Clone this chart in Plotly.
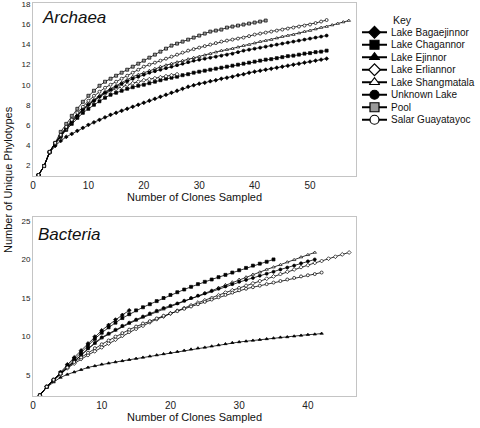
import plotly.graph_objects as go

# ---------------- DATA ----------------
series_names = ["Lake Bagaejinnor", "Lake Chagannor", "Lake Ejinnor", "Lake Erliannor",
                "Lake Shangmatala", "Unknown Lake", "Pool", "Salar Guayatayoc"]

# Archaea rarefaction curves (unique phylotypes at 1, 2, 3, ... clones)
arch_bagaejinnor = [1, 1.9, 3.2, 3.9, 4.4, 4.8, 5.1, 5.4, 5.7, 6.0, 6.25, 6.5, 6.75, 7.0, 7.2, 7.4, 7.6, 7.8, 8.0, 8.2,
                    8.4, 8.6, 8.8, 9.0, 9.2, 9.4, 9.6, 9.8, 9.95, 10.1, 10.2, 10.35, 10.45, 10.6, 10.7, 10.8, 10.95,
                    11.05, 11.2, 11.3, 11.4, 11.5, 11.6, 11.7, 11.8, 11.9, 12.0, 12.1, 12.2, 12.3, 12.4, 12.5, 12.6]
arch_chagannor = [1, 1.9, 3.3, 4.1, 4.8, 5.5, 6.1, 6.7, 7.2, 7.6, 8.0, 8.35, 8.7, 9.0, 9.2, 9.4, 9.6, 9.75, 9.9, 10.0,
                  10.15, 10.3, 10.45, 10.6, 10.7, 10.8, 10.95, 11.05, 11.2, 11.3, 11.4, 11.5, 11.6, 11.7, 11.8, 11.9,
                  12.0, 12.1, 12.2, 12.3, 12.4, 12.5, 12.55, 12.65, 12.75, 12.85, 12.9, 13.0, 13.1, 13.15, 13.25,
                  13.3, 13.4]
arch_erliannor = [1, 1.9, 3.3, 4.2, 4.9, 5.6, 6.3, 6.9, 7.5, 8.0, 8.4, 8.8, 9.1, 9.4, 9.6, 9.8, 10.0, 10.15, 10.3,
                  10.45, 10.55, 10.65, 10.75, 10.85, 10.95, 11.05]
arch_shangmatala = [1, 1.9, 3.3, 4.2, 4.9, 5.7, 6.4, 7.0, 7.6, 8.1, 8.5, 8.9, 9.3, 9.6, 9.9, 10.2, 10.5, 10.8, 11.0,
                    11.2, 11.4, 11.6, 11.8, 11.95, 12.1, 12.25, 12.4, 12.55, 12.7, 12.8, 12.95, 13.1, 13.25, 13.4,
                    13.5, 13.6, 13.75, 13.9, 14.0, 14.15, 14.3, 14.4, 14.5, 14.65, 14.8, 14.9, 15.0, 15.15, 15.3,
                    15.4, 15.55, 15.7, 15.8, 15.95, 16.1, 16.25, 16.4]
arch_unknown = [1, 1.9, 3.3, 4.2, 4.9, 5.7, 6.3, 6.9, 7.5, 8.0, 8.4, 8.8, 9.2, 9.5, 9.8, 10.1, 10.35, 10.6, 10.8, 11.0,
                11.2, 11.35, 11.5, 11.65, 11.8, 11.95, 12.1, 12.25, 12.4, 12.5, 12.6, 12.7, 12.8, 12.9, 13.0, 13.1,
                13.25, 13.4, 13.5, 13.6, 13.7, 13.8, 13.9, 14.0, 14.1, 14.2, 14.3, 14.4, 14.5, 14.6, 14.7, 14.8, 14.9]
arch_pool = [1, 1.9, 3.3, 4.2, 5.3, 6.1, 6.9, 7.6, 8.3, 8.9, 9.4, 9.9, 10.3, 10.6, 10.9, 11.2, 11.5, 11.8, 12.1, 12.4,
             12.7, 13.0, 13.3, 13.6, 13.9, 14.1, 14.3, 14.5, 14.7, 14.9, 15.1, 15.3, 15.4, 15.5, 15.7, 15.8, 15.9,
             16.0, 16.1, 16.2, 16.3, 16.4]
arch_salar = [1, 1.9, 3.3, 4.2, 5.0, 5.8, 6.5, 7.2, 7.8, 8.4, 8.9, 9.3, 9.7, 10.0, 10.3, 10.6, 10.9, 11.2, 11.5, 11.8,
              12.0, 12.2, 12.4, 12.6, 12.8, 13.0, 13.2, 13.4, 13.55, 13.7, 13.85, 14.0, 14.15, 14.3, 14.4, 14.5, 14.6,
              14.7, 14.85, 15.0, 15.1, 15.2, 15.3, 15.4, 15.5, 15.6, 15.7, 15.8, 15.9, 16.0, 16.15, 16.3, 16.45]

# Bacteria rarefaction curves
bact_bagaejinnor = [2.4, 3.5, 4.4, 5.4, 6.4, 7.3, 8.2, 9.1, 10.0, 10.8, 11.5, 12.2, 12.8, 13.4]
bact_chagannor = [2.4, 3.5, 4.4, 5.3, 6.2, 7.1, 7.9, 8.8, 9.7, 10.5, 11.2, 11.8, 12.4, 12.9, 13.4, 13.8, 14.2, 14.6,
                  15.0, 15.4, 15.75, 16.1, 16.45, 16.8, 17.1, 17.4, 17.7, 18.0, 18.3, 18.6, 18.9, 19.2, 19.45, 19.7,
                  20.0]
bact_ejinnor = [2.4, 3.4, 4.1, 4.7, 5.1, 5.4, 5.7, 6.0, 6.2, 6.4, 6.55, 6.7, 6.85, 7.0, 7.15, 7.3, 7.45, 7.6, 7.75,
                7.9, 8.05, 8.2, 8.35, 8.5, 8.6, 8.75, 8.9, 9.05, 9.2, 9.3, 9.4, 9.5, 9.6, 9.7, 9.8, 9.9, 9.95, 10.05,
                10.15, 10.25, 10.3, 10.4]
bact_erliannor = [2.4, 3.5, 4.3, 5.1, 5.9, 6.5, 7.1, 7.6, 8.1, 8.6, 9.1, 9.6, 10.1, 10.6, 11.0, 11.4, 11.85, 12.25,
                  12.6, 13.0, 13.35, 13.7, 14.05, 14.4, 14.7, 15.0, 15.35, 15.7, 16.0, 16.3, 16.6, 16.9, 17.2, 17.5,
                  17.8, 18.1, 18.4, 18.7, 19.0, 19.25, 19.55, 19.8, 20.1, 20.35, 20.65, 20.9]
bact_shangmatala = [2.4, 3.5, 4.4, 5.2, 6.1, 6.9, 7.6, 8.4, 9.1, 9.8, 10.3, 10.8, 11.3, 11.7, 12.1, 12.5, 12.85, 13.2,
                    13.55, 13.9, 14.25, 14.6, 14.95, 15.3, 15.65, 16.0, 16.35, 16.7, 17.05, 17.4, 17.7, 18.05, 18.35,
                    18.7, 19.0, 19.3, 19.65, 19.95, 20.3, 20.6, 20.9]
bact_unknown = [2.4, 3.5, 4.4, 5.2, 6.1, 6.9, 7.7, 8.5, 9.2, 9.9, 10.4, 10.9, 11.4, 11.8, 12.2, 12.6, 13.0, 13.35, 13.7,
                14.0, 14.3, 14.65, 15.0, 15.3, 15.6, 15.9, 16.2, 16.5, 16.8, 17.1, 17.35, 17.6, 17.9, 18.15, 18.4,
                18.7, 18.95, 19.2, 19.5, 19.75, 20.0]
bact_salar = [2.4, 3.5, 4.4, 5.2, 6.0, 6.7, 7.3, 7.9, 8.5, 9.0, 9.5, 10.0, 10.45, 10.9, 11.3, 11.7, 12.0, 12.35, 12.7,
              13.0, 13.3, 13.6, 13.9, 14.2, 14.5, 14.8, 15.1, 15.4, 15.7, 16.0, 16.2, 16.4, 16.6, 16.8, 17.0, 17.2,
              17.4, 17.6, 17.8, 17.95, 18.1, 18.3]

archaea = {"Lake Bagaejinnor": arch_bagaejinnor, "Lake Chagannor": arch_chagannor,
           "Lake Erliannor": arch_erliannor, "Lake Shangmatala": arch_shangmatala,
           "Unknown Lake": arch_unknown, "Pool": arch_pool, "Salar Guayatayoc": arch_salar}
bacteria = {"Lake Bagaejinnor": bact_bagaejinnor, "Lake Chagannor": bact_chagannor,
            "Lake Ejinnor": bact_ejinnor, "Lake Erliannor": bact_erliannor,
            "Lake Shangmatala": bact_shangmatala, "Unknown Lake": bact_unknown,
            "Salar Guayatayoc": bact_salar}

arch_yticks = [2, 4, 6, 8, 10, 12, 14, 16, 18]
bact_yticks = [5, 10, 15, 20, 25]
arch_xticks = [0, 10, 20, 30, 40, 50]
bact_xticks = [0, 10, 20, 30, 40]

# ---------------- STYLE ----------------
styles = {
    "Lake Bagaejinnor": dict(symbol="diamond", color="black"),
    "Lake Chagannor": dict(symbol="square", color="black"),
    "Lake Ejinnor": dict(symbol="triangle-up", color="black"),
    "Lake Erliannor": dict(symbol="diamond", color="white"),
    "Lake Shangmatala": dict(symbol="triangle-up", color="white"),
    "Unknown Lake": dict(symbol="circle", color="black"),
    "Pool": dict(symbol="square", color="#9a9a9a"),
    "Salar Guayatayoc": dict(symbol="circle", color="white"),
}

FONT = "Liberation Sans, Arial, sans-serif"
W, H = 480, 428
fig = go.Figure()


def add_panel(data, xa, ya):
    for name, vals in data.items():
        st = styles[name]
        fig.add_trace(go.Scatter(
            x=list(range(1, len(vals) + 1)), y=vals, mode="lines+markers", name=name,
            showlegend=False, xaxis=xa, yaxis=ya, legendgroup=name,
            line=dict(color="black", width=0.8),
            marker=dict(symbol=st["symbol"], size=3, color=st["color"],
                        line=dict(color="black", width=0.7)),
            hoverinfo="x+y+name"))


add_panel(archaea, "x", "y")
add_panel(bacteria, "x2", "y2")

# Key: one row per series on a small categorical axis (names shown as tick labels)
for name in series_names:
    st = styles[name]
    fig.add_trace(go.Scatter(
        x=[0, 1], y=[name, name], mode="lines", xaxis="x3", yaxis="y3",
        line=dict(color="black", width=2), showlegend=False, hoverinfo="skip", cliponaxis=False))
    fig.add_trace(go.Scatter(
        x=[0.5], y=[name], mode="markers", xaxis="x3", yaxis="y3", name=name,
        marker=dict(symbol=st["symbol"], size=9, color=st["color"],
                    line=dict(color="black", width=1.2)),
        showlegend=False, hoverinfo="name", cliponaxis=False))

axis_common = dict(showline=True, mirror=True, linecolor="#c4c4c4", linewidth=1,
                   showgrid=False, zeroline=False, ticks="", automargin=False,
                   tickfont=dict(family=FONT, size=10, color="#222"))

fig.update_layout(
    width=W, height=H,
    margin=dict(l=0, r=0, t=0, b=0),
    paper_bgcolor="white", plot_bgcolor="white",
    font=dict(family=FONT, color="#111"),
    showlegend=False,
    xaxis=dict(axis_common, domain=[33 / W, 356 / W], range=[0, 58.3], tickvals=arch_xticks,
               title=dict(text="Number of Clones Sampled", font=dict(size=11), standoff=2),
               anchor="y"),
    yaxis=dict(axis_common, domain=[1 - 176 / H, 1 - 3 / H], range=[0.9, 18.15],
               tickvals=arch_yticks, tickfont=dict(family=FONT, size=8, color="#222"), anchor="x"),
    xaxis2=dict(axis_common, domain=[33 / W, 356 / W], range=[0, 47], tickvals=bact_xticks,
                title=dict(text="Number of Clones Sampled", font=dict(size=11), standoff=2),
                anchor="y2"),
    yaxis2=dict(axis_common, domain=[1 - 396 / H, 1 - 217 / H], range=[2.3, 25.5],
                tickvals=bact_yticks, tickfont=dict(family=FONT, size=8, color="#222"), anchor="x2"),
    xaxis3=dict(domain=[362 / W, 387 / W], range=[0, 1], visible=False, fixedrange=True, anchor="y3"),
    yaxis3=dict(domain=[1 - 126 / H, 1 - 26 / H], type="category", categoryorder="array",
                categoryarray=series_names, range=[7.5, -0.5], side="right", anchor="x3",
                tickmode="array", tickvals=series_names, ticktext=series_names,
                showline=False, showgrid=False, zeroline=False, ticks="", automargin=False,
                ticklabelstandoff=3, fixedrange=True,
                tickfont=dict(family=FONT, size=10, color="#111")),
    annotations=[
        dict(text="Key", x=391 / W, y=1 - 20 / H, xref="paper", yref="paper",
             xanchor="left", yanchor="middle", showarrow=False, font=dict(size=10.5, family=FONT)),
        dict(text="<i>Archaea</i>", x=40 / W, y=1 - 17 / H, xref="paper", yref="paper",
             xanchor="left", yanchor="middle", showarrow=False, font=dict(size=17, family=FONT)),
        dict(text="<i>Bacteria</i>", x=36 / W, y=1 - 234 / H, xref="paper", yref="paper",
             xanchor="left", yanchor="middle", showarrow=False, font=dict(size=17, family=FONT)),
        dict(text="Number of Unique Phylotypes", x=8 / W, y=1 - 180 / H, xref="paper", yref="paper",
             xanchor="center", yanchor="middle", textangle=-90, showarrow=False,
             font=dict(size=11, family=FONT)),
    ],
)

fig.write_html("out.html", config={"displayModeBar": False},
               post_script="document.body.style.margin='0';")
